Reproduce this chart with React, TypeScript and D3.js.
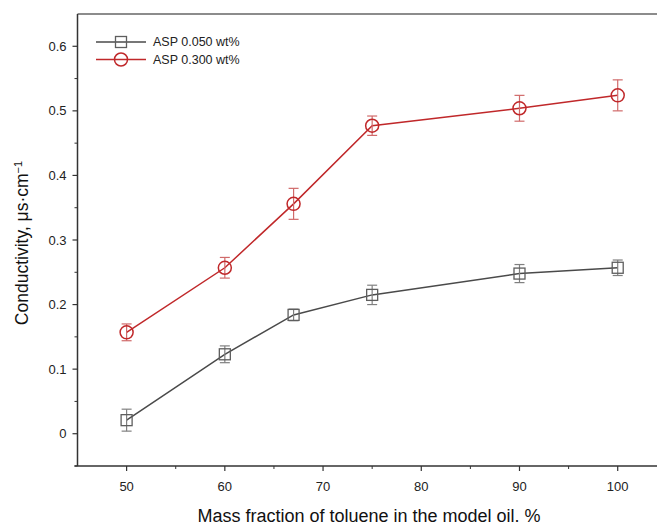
import React from "react";
import * as d3 from "d3";

// toluene mass fraction, %
const xValues = [50, 60, 67, 75, 90, 100];

const lowValues = [0.021, 0.123, 0.184, 0.215, 0.248, 0.257];
const lowErrors = [0.017, 0.013, 0.009, 0.015, 0.014, 0.012];

const highValues = [0.157, 0.257, 0.356, 0.477, 0.504, 0.524];
const highErrors = [0.013, 0.016, 0.024, 0.015, 0.02, 0.024];

const xTicks = [50, 60, 70, 80, 90, 100];
const xMinorTicks = [55, 65, 75, 85, 95];
const yTicks = [0, 0.1, 0.2, 0.3, 0.4, 0.5, 0.6];
const yMinorTicks = [-0.05, 0.05, 0.15, 0.25, 0.35, 0.45, 0.55];

const seriesNames = ["ASP 0.050 wt%", "ASP 0.300 wt%"];

const W = 657;
const H = 525;
const margin = { top: 14, right: 0, bottom: 59, left: 77.5 };

const FONT = "'Liberation Sans', Arial, sans-serif";

export default function App() {
  const x = d3.scaleLinear().domain([45, 104]).range([margin.left, W - margin.right]);
  const y = d3.scaleLinear().domain([-0.05, 0.65]).range([H - margin.bottom, margin.top]);

  const line = d3
    .line<number>()
    .x((_, i) => x(xValues[i]))
    .y((d) => y(d));

  const series = [
    { name: seriesNames[0], values: lowValues, errors: lowErrors, line: "#4a4a4a", mark: "#5e5e5e", err: "#808080", shape: "square" },
    { name: seriesNames[1], values: highValues, errors: highErrors, line: "#c0282a", mark: "#c0282a", err: "#d06a6a", shape: "circle" },
  ];

  const x0 = x.range()[0];
  const yb = y.range()[0];

  const marker = (shape: string, cx: number, cy: number, color: string) =>
    shape === "square" ? (
      <rect x={cx - 5.5} y={cy - 5.5} width={11} height={11} fill="none" stroke={color} strokeWidth={1.3} />
    ) : (
      <circle cx={cx} cy={cy} r={6.5} fill="none" stroke={color} strokeWidth={1.5} />
    );

  return (
    <svg width={W} height={H} style={{ position: "absolute", left: 0, top: 0 }} fontFamily={FONT}>
      <rect width={W} height={H} fill="#fff" />

      {/* top frame */}
      <line x1={x0} x2={W} y1={margin.top} y2={margin.top} stroke="#666" strokeWidth={1.5} />

      {/* y axis */}
      <line x1={x0} x2={x0} y1={margin.top} y2={yb} stroke="#333" strokeWidth={1.5} />
      {yTicks.map((t) => (
        <g key={"yt" + t}>
          <line x1={x0 - 5} x2={x0} y1={y(t)} y2={y(t)} stroke="#333" strokeWidth={1.2} />
          <text x={x0 - 11} y={y(t)} dy="0.35em" textAnchor="end" fontSize={13} fill="#222">
            {t === 0 ? "0" : t.toFixed(1)}
          </text>
        </g>
      ))}
      {yMinorTicks.map((t) => (
        <line key={"ym" + t} x1={x0 - 3} x2={x0} y1={y(t)} y2={y(t)} stroke="#333" strokeWidth={1} />
      ))}

      {/* x axis */}
      <line x1={x0 - 3} x2={W} y1={yb} y2={yb} stroke="#333" strokeWidth={1.5} />
      {xTicks.map((t) => (
        <g key={"xt" + t}>
          <line x1={x(t)} x2={x(t)} y1={yb} y2={yb + 5} stroke="#333" strokeWidth={1.2} />
          <text x={x(t)} y={yb + 20} dy="0.35em" textAnchor="middle" fontSize={13} fill="#222">
            {t}
          </text>
        </g>
      ))}
      {xMinorTicks.map((t) => (
        <line key={"xm" + t} x1={x(t)} x2={x(t)} y1={yb} y2={yb + 3} stroke="#333" strokeWidth={1} />
      ))}

      {/* axis titles */}
      <text x={369} y={522} textAnchor="middle" fontSize={18} fill="#111">
        Mass fraction of toluene in the model oil. %
      </text>
      <text
        transform={`translate(22,243) rotate(-90)`}
        dy="0.35em"
        textAnchor="middle"
        fontSize={17.5}
        fill="#111"
      >
        Conductivity, μs·cm<tspan dy="-0.55em" fontSize={11}>−1</tspan>
      </text>

      {/* series */}
      {series.map((s) => (
        <g key={s.name}>
          <path d={line(s.values) || ""} fill="none" stroke={s.line} strokeWidth={1.5} />
          {s.values.map((v, i) => {
            const cx = x(xValues[i]);
            const top = y(v + s.errors[i]);
            const bot = y(v - s.errors[i]);
            return (
              <g key={i}>
                <line x1={cx} x2={cx} y1={top} y2={bot} stroke={s.err} strokeWidth={1.2} />
                <line x1={cx - 5} x2={cx + 5} y1={top} y2={top} stroke={s.err} strokeWidth={1.2} />
                <line x1={cx - 5} x2={cx + 5} y1={bot} y2={bot} stroke={s.err} strokeWidth={1.2} />
                {marker(s.shape, cx, y(v), s.mark)}
              </g>
            );
          })}
        </g>
      ))}

      {/* legend */}
      {series.map((s, i) => {
        const ly = 42 + i * 17.5;
        return (
          <g key={"lg" + i}>
            <line x1={96} x2={146} y1={ly} y2={ly} stroke={s.line} strokeWidth={1.5} />
            {marker(s.shape, 121, ly, s.mark)}
            <text x={153} y={ly} dy="0.35em" fontSize={12.5} fill="#222">
              {s.name}
            </text>
          </g>
        );
      })}
    </svg>
  );
}
